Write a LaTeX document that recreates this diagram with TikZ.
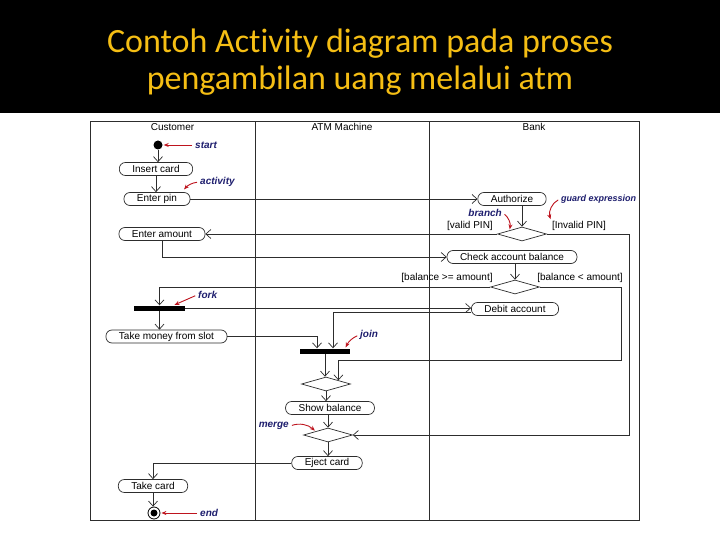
\documentclass[tikz,border=0pt]{standalone}
\usepackage{fontspec}
\setmainfont{Liberation Sans}
\newfontfamily\titlefont[Ligatures=NoCommon]{Carlito}
\usepackage{tikz}
\usetikzlibrary{arrows.meta,positioning,shapes.geometric}
\definecolor{titlegold}{RGB}{245,190,20}
\definecolor{notenavy}{RGB}{30,30,110}
\definecolor{noteRed}{RGB}{190,20,30}
\definecolor{umlline}{RGB}{45,45,45}

\begin{document}
\begin{tikzpicture}[x=1pt,y=-1pt,
  lane/.style={draw=umlline,line width=0.7pt,minimum width=#1,minimum height=399pt,inner sep=0pt,outer sep=0pt},
  lanehead/.style={anchor=north,inner sep=2pt,font=\fontsize{10}{11}\selectfont},
  act/.style={draw=umlline,line width=0.7pt,rounded corners=6pt,minimum height=13pt,inner xsep=13pt,inner ysep=1pt,font=\fontsize{10}{11}\selectfont},
  choice/.style={draw=umlline,line width=0.7pt,diamond,minimum width=49pt,minimum height=14pt,inner sep=0pt},
  bar/.style={fill=black,minimum height=5pt,inner sep=0pt},
  guard/.style={font=\fontsize{10}{11}\selectfont,inner sep=1pt},
  note/.style={text=notenavy,font=\fontsize{10}{11}\selectfont\bfseries\itshape,inner sep=1pt},
  titletext/.style={text=titlegold,anchor=base,font=\titlefont\fontsize{34}{37}\selectfont},
  flow/.style={-{Straight Barb[length=5pt,width=9pt]},umlline,line width=0.7pt},
  callout/.style={-{Stealth[length=5pt,width=4pt]},noteRed,line width=0.9pt,shorten <=2pt,shorten >=1pt}
]
  \fill[black] (0,0) rectangle (720,113);
  \fill[white] (0,113) rectangle (720,540);
  \useasboundingbox (0,0) rectangle (720,540);

  \node[titletext] (ttlA) at (360,53) {Contoh Activity diagram pada proses};
  \node[titletext] (ttlB) at (360,90) {pengambilan uang melalui atm};

  % swimlanes
  \node[lane=165pt,label={[lanehead]north:Customer}] (custLane) at (172.5,320.5) {};
  \node[lane=174pt,right=0pt of custLane,label={[lanehead]north:ATM Machine}] (atmLane) {};
  \node[lane=210pt,right=0pt of atmLane,label={[lanehead]north:Bank}] (bankLane) {};

  % activities
  \node[circle,fill=black,minimum size=9pt,inner sep=0pt] (start) at (158,145) {};
  \node[act] (ins) at (156,169) {Insert card};
  \node[act] (pin) at (157,199) {Enter pin};
  \node[act] (amt) at (162,234) {Enter amount};
  \node[act] (auth) at (512,199) {Authorize};
  \node[choice] (br) at (522,234) {};
  \node[act] (chk) at (512,257) {Check account balance};
  \node[choice] (dec) at (515,287) {};
  \node[act] (deb) at (515,309) {Debit account};
  \node[bar,minimum width=51pt] (fork) at (159.5,308) {};
  \node[act] (take) at (166.5,336.5) {Take money from slot};
  \node[bar,minimum width=50pt] (join) at (325,351) {};
  \node[choice] (mrgA) at (326,384) {};
  \node[act] (show) at (330,408) {Show balance};
  \node[choice] (mrgB) at (328,435) {};
  \node[act] (eject) at (327,463) {Eject card};
  \node[act] (tcard) at (153,486) {Take card};
  \node[circle,draw=black,line width=0.8pt,minimum size=12pt,inner sep=0pt] (end) at (154,513) {};
  \node[circle,fill=black,minimum size=7pt,inner sep=0pt] (endDot) at (end) {};

  % guards
  \node[guard] (gValid) at (470,226) {[valid PIN]};
  \node[guard] (gInv) at (579,226) {[Invalid PIN]};
  \node[guard] (gGe) at (447,278) {[balance >= amount]};
  \node[guard] (gLt) at (580,278) {[balance < amount]};

  \coordinate (invCorner) at (629,435);
  \coordinate (ltCorner) at (621,360);

  % flows
  \draw[flow] (start) -- (start |- ins.north);
  \draw[flow] (ins.south) -- (ins.south |- pin.north);
  \draw[flow] (pin.east) -- (auth.west);
  \draw[flow] (br.north |- auth.south) -- (br.north);
  \draw[flow] (br.west) -- (amt.east);
  \draw[flow] (br.east) -| (invCorner) -- (mrgB.east);
  \draw[flow] (amt.south) |- (chk.west);
  \draw[flow] (dec.north |- chk.south) -- (dec.north);
  \draw[flow] (dec.west) -| (fork.north);
  \draw[flow] (dec.east) -| (ltCorner) -| (mrgA.north east);
  \draw[flow] (fork.east) -- (fork.east -| deb.west);
  \draw[flow] (fork.south) -- (fork.south |- take.north);
  \draw[flow] (take.east) -| ([xshift=-8pt]join.north);
  \draw[flow] ([yshift=-3pt]deb.west) -| ([xshift=8pt]join.north);
  \draw[flow] (join.south) -- (join.south |- mrgA.north);
  \draw[flow] (mrgA.south) -- (mrgA.south |- show.north);
  \draw[flow] (show.south -| mrgB.north) -- (mrgB.north);
  \draw[flow] (mrgB.south) -- (mrgB.south |- eject.north);
  \draw[flow] (eject.west) -| (tcard.north);
  \draw[flow] (tcard.south) -- (tcard.south |- end.north);

  % notes
  \node[note,anchor=west] (nStart) at (194,145) {start};
  \draw[callout] (nStart.west) -- (start.east);
  \node[note,anchor=west] (nAct) at (199,182) {activity};
  \draw[callout] (nAct.west) to[bend right=20] ([xshift=-7pt,yshift=2pt]pin.north east);
  \node[note,anchor=east] (nBr) at (503,213) {branch};
  \draw[callout] (nBr.east) to[bend left=30] (br.north west);
  \node[note,anchor=west,font=\fontsize{9}{10}\selectfont\bfseries\itshape] (nGd) at (560,199) {guard expression};
  \draw[callout] (nGd.west) to[bend right=40] (gInv.north west);
  \node[note,anchor=west] (nFork) at (197,295) {fork};
  \draw[callout] (nFork.west) -- ([xshift=14pt]fork.north);
  \node[note,anchor=west] (nJoin) at (359,335) {join};
  \draw[callout] (nJoin.west) to[bend right=20] ([xshift=-5pt]join.north east);
  \node[note,anchor=east] (nMerge) at (290,426) {merge};
  \draw[callout] (nMerge.east) to[bend left=30] (mrgB.north west);
  \node[note,anchor=west] (nEnd) at (199,513) {end};
  \draw[callout] (nEnd.west) -- (end.east);
\end{tikzpicture}
\end{document}
